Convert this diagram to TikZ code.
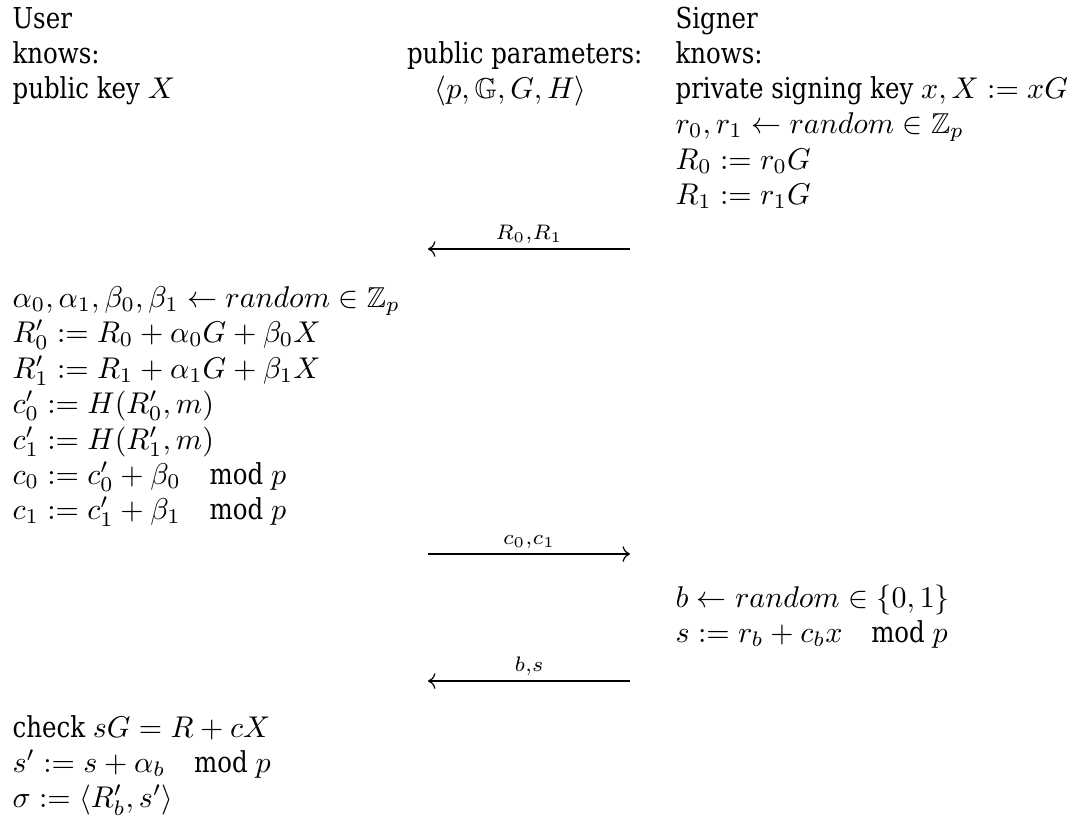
\documentclass[tikz,border=0pt]{standalone}
\usepackage{amsmath}
\usepackage{amssymb}
\usepackage[no-math]{fontspec}
\setmainfont[FakeStretch=0.85]{DejaVu Serif}
\usetikzlibrary{arrows.meta}

\begin{document}
\begin{tikzpicture}[x=0.3333pt,y=-0.3333pt, every node/.style={inner sep=0pt, font=\fontsize{9.6}{11.5}\selectfont},
    row/.style={anchor=base west}, pend/.style={anchor=base east},
    msg/.style={above=1.5pt}, send/.style={-{Computer Modern Rightarrow}}, recv/.style={{Computer Modern Rightarrow}-}]
    \useasboundingbox (0,0) rectangle (1067,817);
    % headers
    \node[row] (user) at (12,28) {User};
    \node[row] (uknows) at (12,63) {knows:};
    \node[row] (ukey) at (12,98) {public key $X$};
    \node[pend] (pp) at (643,63) {public parameters:};
    \node[row] (ppv) at (434,98) {$\langle p, \mathbb{G}, G, H\rangle$};
    \node[row] (signer) at (675,28) {Signer};
    \node[row] (sknows) at (675,63) {knows:};
    \node[row] (skey) at (675,98) {private signing key $x, X := xG$};
    % signer commits
    \node[row] (rr) at (675,133) {$r_0, r_1 \leftarrow random \in \mathbb{Z}_p$};
    \node[row] (R0) at (675,169) {$R_0 := r_0G$};
    \node[row] (R1) at (675,204) {$R_1 := r_1G$};
    \coordinate (m1u) at (428,249);
    \coordinate (m1s) at (630,249);
    \draw[recv] (m1u) -- node[msg] (l1) {$\scriptstyle R_0,R_1$} (m1s);
    % user blinds
    \node[row] (ab) at (12,307) {$\alpha_0, \alpha_1, \beta_0, \beta_1 \leftarrow random \in \mathbb{Z}_p$};
    \node[row] (R0b) at (12,342) {$R'_0 := R_0 + \alpha_0G + \beta_0X$};
    \node[row] (R1b) at (12,378) {$R'_1 := R_1 + \alpha_1G + \beta_1X$};
    \node[row] (c0b) at (12,413) {$c'_0 := H(R'_0, m)$};
    \node[row] (c1b) at (12,449) {$c'_1 := H(R'_1, m)$};
    \node[row] (c0) at (12,484) {$c_0 := c'_0 + \beta_0 \quad \text{mod }p$};
    \node[row] (c1) at (12,519) {$c_1 := c'_1 + \beta_1 \quad \text{mod }p$};
    \coordinate (m2u) at (428,554);
    \coordinate (m2s) at (630,554);
    \draw[send] (m2u) -- node[msg] (l2) {$\scriptstyle c_0,c_1$} (m2s);
    % signer answers
    \node[row] (bb) at (675,607) {$b \leftarrow random \in \{0,1\}$};
    \node[row] (ss) at (675,642) {$s := r_b + c_bx \quad \text{mod }p$};
    \coordinate (m3u) at (428,681);
    \coordinate (m3s) at (630,681);
    \draw[recv] (m3u) -- node[msg] (l3) {$\scriptstyle b,s$} (m3s);
    % unblind
    \node[row] (chk) at (12,737) {check $sG = R + cX$};
    \node[row] (sb) at (12,772) {$s' := s + \alpha_b \quad \text{mod }p$};
    \node[row] (sig) at (12,807) {$\sigma := \langle R'_b, s'\rangle$};
\end{tikzpicture}
\end{document}
